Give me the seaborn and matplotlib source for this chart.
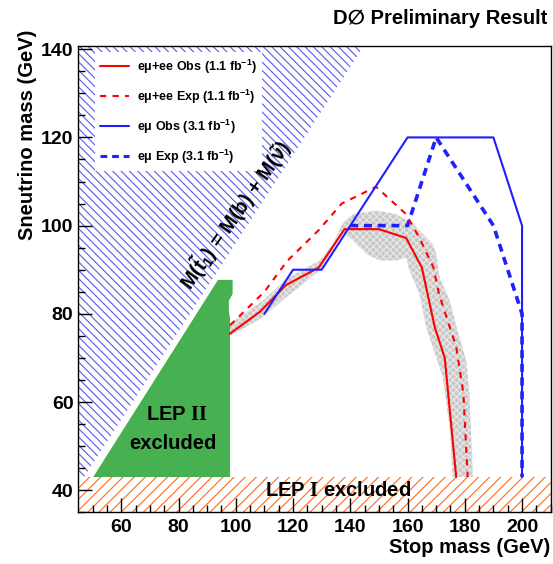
import numpy as np
import pandas as pd
import matplotlib
matplotlib.use("Agg")
import matplotlib.pyplot as plt
import seaborn as sns
from matplotlib.patches import Polygon, Rectangle
from matplotlib.lines import Line2D

# ---------------- data ----------------
red_obs_x = [98, 108.5, 117.5, 129, 138, 150, 159.5, 165, 169.5, 173, 177]
red_obs_y = [75.5, 80.5, 86.5, 90.5, 99.2, 99.2, 97.2, 90.5, 77, 70, 43]

red_exp_x = [98, 110, 118, 129, 137, 149, 159.5, 164, 169, 171, 177, 179.5, 181]
red_exp_y = [77.4, 85, 92, 99, 105, 108.8, 102.6, 97.4, 90.6, 84.5, 72.5, 62, 43]

blue_obs_x = [110, 120, 130, 160, 190, 200, 200]
blue_obs_y = [80, 90, 90, 120, 120, 100, 43]

blue_exp_x = [140, 160, 170, 190, 200, 200]
blue_exp_y = [100, 100, 120, 100, 80, 43]

band_up_x = [98, 101.4, 109.5, 117.7, 129.3, 134, 137.4, 140.9, 149.1, 156, 161.9,
             168.8, 170, 171.2, 174.7, 178.1, 180.5, 181.6, 182.8]
band_up_y = [77.7, 79.3, 83, 87.9, 92.1, 95.8, 100.7, 102.6, 103.4, 102.6, 100.4,
             95.8, 93.6, 88.3, 83, 74.7, 69.5, 61.9, 43]
band_lo_x = [98, 103.7, 109.5, 117.7, 129.3, 137.4, 140.9, 145.6, 150.2, 156, 159.5,
             160.7, 164.2, 166.5, 168.8, 172.3, 174.7, 175.8]
band_lo_y = [75.1, 77, 79.3, 83.8, 89.8, 98.5, 96.6, 93.6, 92.1, 92.1, 92.8,
             89.8, 84.5, 77, 72.5, 65.7, 54.4, 43]

lep2_x = [50.2, 93.8, 98.9, 98.9, 97.6, 97.6, 98, 98]
lep2_y = [43, 87.7, 87.7, 84.5, 83, 80.5, 79, 43]

kin_x = [45, 150, 45]          # M(stop) = M(b) + M(sneutrino) forbidden region
kin_y = [41, 146, 146]

lep1_ymax = 43

labels = ["eμ+ee Obs (1.1 fb$^{-1}$)", "eμ+ee Exp (1.1 fb$^{-1}$)",
          "eμ Obs (3.1 fb$^{-1}$)", "eμ Exp (3.1 fb$^{-1}$)"]
xticks = [60, 80, 100, 120, 140, 160, 180, 200]
yticks = [40, 60, 80, 100, 120, 140]

# ---------------- style ----------------
sns.set_theme(style="white")
plt.rcParams["font.family"] = ["Liberation Sans", "DejaVu Sans"]
plt.rcParams["font.weight"] = "bold"
plt.rcParams["text.color"] = "black"
plt.rcParams["axes.labelcolor"] = "black"
plt.rcParams["xtick.color"] = "black"
plt.rcParams["ytick.color"] = "black"
plt.rcParams["mathtext.fontset"] = "custom"
plt.rcParams["mathtext.rm"] = "Liberation Sans:bold"
plt.rcParams["mathtext.it"] = "Liberation Sans:bold"
plt.rcParams["mathtext.bf"] = "Liberation Sans:bold"
plt.rcParams["mathtext.sf"] = "Liberation Serif:bold"
plt.rcParams["mathtext.default"] = "rm"
plt.rcParams["hatch.linewidth"] = 0.8

fig = plt.figure(figsize=(5.53, 5.64), dpi=100)
ax = fig.add_axes([0.1416, 0.0917, 0.8542, 0.8273])
ax.set_xlim(45, 210)
ax.set_ylim(35, 140.8)
ax.set_axisbelow(False)

# kinematically forbidden region (blue hatch)
ax.add_patch(Polygon(np.column_stack([kin_x, kin_y]), closed=True, facecolor="none",
                     edgecolor="#5a5aea", hatch="\\" * 4, lw=0, zorder=1))
# LEP II
ax.add_patch(Polygon(np.column_stack([lep2_x, lep2_y]), closed=True,
                     facecolor="#47b050", edgecolor="none", lw=0, zorder=1.6))
# uncertainty band
band = np.column_stack([band_up_x + band_lo_x[::-1], band_up_y + band_lo_y[::-1]])
ax.add_patch(Polygon(band, closed=True, facecolor="#c8c8c8", edgecolor="none",
                     lw=0, zorder=1.7))
ax.add_patch(Polygon(band, closed=True, facecolor="none", edgecolor="white",
                     hatch="xxxxx", lw=0, zorder=1.75, alpha=0.6))
# LEP I band
ax.add_patch(Rectangle((45, 35), 165, lep1_ymax - 35, facecolor="white",
                       edgecolor="#ff6a1a", hatch="///", lw=0, zorder=1.5))

df = pd.concat([
    pd.DataFrame({"x": red_obs_x, "y": red_obs_y, "s": labels[0]}),
    pd.DataFrame({"x": red_exp_x, "y": red_exp_y, "s": labels[1]}),
    pd.DataFrame({"x": blue_obs_x, "y": blue_obs_y, "s": labels[2]}),
    pd.DataFrame({"x": blue_exp_x, "y": blue_exp_y, "s": labels[3]}),
])
styles = {labels[0]: dict(color="#ff0000", lw=1.5, ls="-"),
          labels[1]: dict(color="#ff0000", lw=1.5, ls=(0, (3, 3))),
          labels[2]: dict(color="#2020ff", lw=1.5, ls="-"),
          labels[3]: dict(color="#2020ff", lw=2.6, ls=(0, (2.2, 1.6)))}
order = [labels[3], labels[1], labels[0], labels[2]]
for lab in order:
    st = styles[lab]
    sub = df[df["s"] == lab]
    sns.lineplot(data=sub, x="x", y="y", sort=False, estimator=None, ax=ax,
                 color=st["color"], linewidth=st["lw"], linestyle=st["ls"],
                 zorder=3, legend=False)

handles = [Line2D([], [], color=styles[l]["color"], lw=styles[l]["lw"] if l != labels[3] else 2.2,
                  ls=styles[l]["ls"]) for l in labels]
leg = ax.legend(handles, labels, loc="upper left", bbox_to_anchor=(0.035, 0.987),
                borderaxespad=0, prop={"weight": "bold", "size": 9}, frameon=True, fancybox=False,
                facecolor="white", edgecolor="white", framealpha=1,
                handlelength=2.3, handletextpad=0.6, labelspacing=0.95, borderpad=0.45)
leg.get_frame().set_linewidth(0)
leg.set_zorder(5)

# texts
ax.text(100.0, 102.5, r"$M(\tilde{t}_1)$ = $M(b)$ + $M(\tilde{\nu})$", rotation=55,
        rotation_mode="anchor", ha="center", va="center", fontsize=14.5, fontweight="bold", zorder=6)
ax.text(79.6, 57.2, r"LEP $\mathsf{II}$", ha="center", va="center", fontsize=14.5,
        fontweight="bold", zorder=6)
ax.text(77.9, 50.7, "excluded", ha="center", va="center", fontsize=14.5,
        fontweight="bold", zorder=6)
ax.text(135.6, 39.9, r"LEP $\mathsf{I}$ excluded", ha="center", va="center",
        fontsize=14.5, fontweight="bold", zorder=6)

fig.text(0.989, 0.968, "D∅ Preliminary Result", ha="right", va="center",
         fontsize=14.5, fontweight="bold")

# axes
ax.set_xticks(xticks)
ax.set_yticks(yticks)
ax.set_xticks(np.arange(50, 211, 5), minor=True)
ax.set_yticks(np.arange(35, 141, 5), minor=True)
ax.tick_params(axis="both", which="major", direction="in", length=10, width=1,
               labelsize=14, color="black", labelcolor="black",
               bottom=True, left=True, top=False, right=False)
ax.tick_params(axis="both", which="minor", direction="in", length=5, width=1,
               color="black", bottom=True, left=True, top=False, right=False)
ax.tick_params(axis="x", which="major", pad=5)
ax.tick_params(axis="y", which="major", pad=3.5)
for lab in ax.get_xticklabels() + ax.get_yticklabels():
    lab.set_fontweight("bold")
for sp in ax.spines.values():
    sp.set_color("black")
    sp.set_linewidth(1)
    sp.set_zorder(7)
ax.xaxis.set_zorder(6.5)
ax.yaxis.set_zorder(6.5)

ax.set_xlabel("Stop mass (GeV)", fontsize=14.5, fontweight="bold", ha="right", va="center")
ax.xaxis.set_label_coords(1.0, -0.0765)
ax.set_ylabel("Sneutrino mass (GeV)", fontsize=14.5, fontweight="bold", ha="right", va="center")
ax.yaxis.set_label_coords(-0.1086, 1.034)

fig.savefig("out.png", dpi=100)
